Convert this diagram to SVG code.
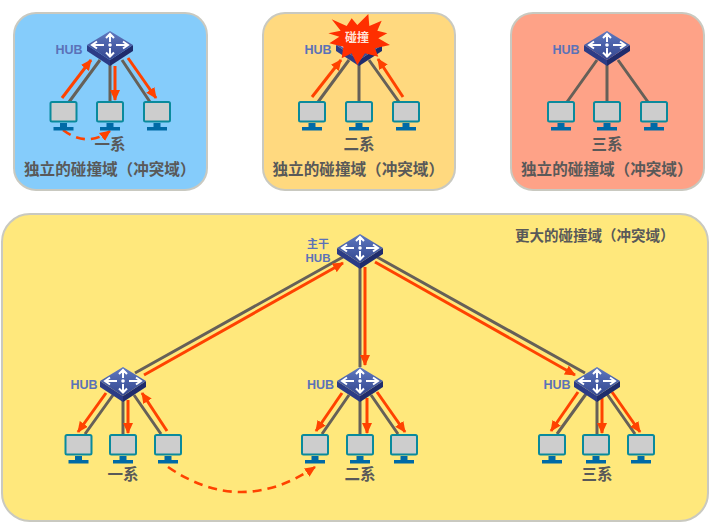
<svg xmlns="http://www.w3.org/2000/svg" width="717" height="529" viewBox="0 0 717 529">
<style>
.panel{stroke:#c9c9c0;stroke-width:2}
.t{font-family:"Noto Sans CJK SC","Liberation Sans",sans-serif;font-weight:700;fill:#595959;text-anchor:middle}
.hub{font-family:"Liberation Sans","Noto Sans CJK SC",sans-serif;font-weight:700;fill:#5b72b8;text-anchor:middle}
.title{font-size:15.600px;text-anchor:start}
.sys{font-size:15.500px}
.link{stroke:#666058;stroke-width:3;fill:none}
.red{stroke:#ff4200;stroke-width:3;fill:none;marker-end:url(#ah)}
.dash{stroke:#ff4200;stroke-width:2.600;fill:none;stroke-dasharray:9 6;marker-end:url(#ah)}
.wa{stroke:#fff;stroke-width:2;fill:none}
</style>
<defs>
<linearGradient id="hg" x1="0" y1="0" x2="0" y2="1"><stop offset="0" stop-color="#5f79c0"/><stop offset="1" stop-color="#33468f"/></linearGradient>
<marker id="ah" markerUnits="userSpaceOnUse" markerWidth="12" markerHeight="12" refX="10" refY="6" orient="auto"><path d="M0 1L11 6L0 11Z" fill="#ff4200"/></marker>
<symbol id="hubicon" overflow="visible">
<path d="M-23 -1V5L0 20V14Z" fill="#2c3c86"/>
<path d="M23 -1V5L0 20V14Z" fill="#1f2c6c"/>
<path d="M0 -15L23 -1L0 14L-23 -1Z" fill="url(#hg)"/>
<path class="wa" d="M0 -4V-11M-4 -8L0 -12L4 -8M0 2V10M-4 6.500L0 10.500L4 6.500M-6 -1H-18M-13 -4.500L-18 -1L-13 2.500M6 -1H18M13 -4.500L18 -1L13 2.500"/>
<circle cx="0" cy="-1" r="1.800" fill="#fff"/>
</symbol>
<symbol id="pcicon" overflow="visible">
<rect x="-13" y="0" width="26" height="19.500" rx="1.500" fill="#cdcdcd" stroke="#0a8a9c" stroke-width="2"/>
<rect x="-3.500" y="21" width="7" height="4" fill="#006aa6"/>
<rect x="-10" y="25" width="20" height="3.500" fill="#006aa6"/>
</symbol>
</defs>
<rect width="717" height="529" fill="#fff"/>
<rect class="panel" x="14" y="13" width="193" height="177" rx="22" fill="#85ccfb"/>
<rect class="panel" x="263" y="13" width="192" height="177" rx="22" fill="#ffd97f"/>
<rect class="panel" x="511" y="13" width="193" height="177" rx="22" fill="#fea287"/>
<rect class="panel" x="2" y="214" width="706" height="307" rx="28" fill="#ffe87c"/>
<g id="connectors">
<path class="link" d="M100 60L69 102M110 64V102M122 60L150 102"/>
<path class="link" d="M349 60L318 102M359 64V102M369 60L399 102"/>
<path class="link" d="M597 60L567 102M607 64V102M618 60L648 102"/>
<path class="link" d="M343 257L135 373M360 266V367M377 257L585 373"/>
<path class="link" d="M113 395L85 434M123 399V435M134 395L161 434"/>
<path class="link" d="M349 395L322 434M360 399V435M371 395L398 434"/>
<path class="link" d="M586 394L557 434M597 399V435M607 394L635 434"/>
<path class="red" d="M62 98L91 60"/>
<path class="red" d="M115 66V100"/>
<path class="red" d="M128 58L156 98"/>
<path class="dash" d="M63 130Q87 148 110 131"/>
<path class="red" d="M312 97L341 60"/>
<path class="red" d="M403 97L378 59"/>
<path class="red" d="M144 375L343 263"/>
<path class="red" d="M365 267V365"/>
<path class="red" d="M375 262L575 375"/>
<path class="red" d="M106 393L78 432"/>
<path class="red" d="M128 400V433"/>
<path class="red" d="M167 431L142 393"/>
<path class="red" d="M342 393L316 431"/>
<path class="red" d="M367 398V433"/>
<path class="red" d="M377 392L405 432"/>
<path class="red" d="M578 392L551 431"/>
<path class="red" d="M602 398V433"/>
<path class="red" d="M612 392L640 432"/>
<path class="dash" d="M168 467Q241 517 315 467"/>
</g>
<g id="hub-1"><use href="#hubicon" x="110" y="46"/><text class="hub" x="69" y="53.500" font-size="12.500">HUB</text></g>
<g id="pc-1a"><use href="#pcicon" x="63.500" y="102"/></g>
<g id="pc-1b"><use href="#pcicon" x="110" y="102"/></g>
<g id="pc-1c"><use href="#pcicon" x="157" y="102"/></g>
<text class="t sys" x="110" y="150">一系</text>
<text class="t title" x="24" y="174.500">独立的碰撞域（冲突域）</text>
<g id="hub-2"><use href="#hubicon" x="359" y="46"/><text class="hub" x="318" y="53.500" font-size="12.500">HUB</text></g>
<g id="pc-2a"><use href="#pcicon" x="312" y="102"/></g>
<g id="pc-2b"><use href="#pcicon" x="359" y="102"/></g>
<g id="pc-2c"><use href="#pcicon" x="406" y="102"/></g>
<text class="t sys" x="359" y="150">二系</text>
<text class="t title" x="272.500" y="174.500">独立的碰撞域（冲突域）</text>
<g id="collision">
<polygon transform="translate(250 0) scale(.3333)" fill="#ff2f00" points="245,58 290,78 305,55 322,75 355,42 358,78 395,62 382,92 412,100 385,115 420,135 375,145 385,170 345,160 322,195 305,160 275,175 280,140 238,130 268,110 235,100 272,92"/>
<text x="357" y="42" font-size="12" text-anchor="middle" fill="#ffe4d8" font-weight="700" font-family="Noto Sans CJK SC,sans-serif">碰撞</text>
</g>
<g id="hub-3"><use href="#hubicon" x="607" y="46"/><text class="hub" x="566" y="53.500" font-size="12.500">HUB</text></g>
<g id="pc-3a"><use href="#pcicon" x="561" y="102"/></g>
<g id="pc-3b"><use href="#pcicon" x="607" y="102"/></g>
<g id="pc-3c"><use href="#pcicon" x="654" y="102"/></g>
<text class="t sys" x="607" y="150">三系</text>
<text class="t title" x="521" y="174.500">独立的碰撞域（冲突域）</text>
<text class="t" x="515" y="241" font-size="14.500" style="text-anchor:start">更大的碰撞域（冲突域）</text>
<g id="hub-main"><use href="#hubicon" x="360" y="249"/><text class="hub" x="318" y="248" font-size="11" style="font-family:'Noto Sans CJK SC',sans-serif">主干</text><text class="hub" x="318" y="262" font-size="11.500">HUB</text></g>
<g id="hub-a"><use href="#hubicon" x="123" y="382"/><text class="hub" x="84" y="388.500" font-size="12.500">HUB</text></g>
<g id="pc-a1"><use href="#pcicon" x="78.500" y="435"/></g>
<g id="pc-a2"><use href="#pcicon" x="123" y="435"/></g>
<g id="pc-a3"><use href="#pcicon" x="168" y="435"/></g>
<text class="t sys" x="123" y="480">一系</text>
<g id="hub-b"><use href="#hubicon" x="360" y="382"/><text class="hub" x="320.500" y="388.500" font-size="12.500">HUB</text></g>
<g id="pc-b1"><use href="#pcicon" x="315" y="435"/></g>
<g id="pc-b2"><use href="#pcicon" x="360" y="435"/></g>
<g id="pc-b3"><use href="#pcicon" x="404" y="435"/></g>
<text class="t sys" x="360" y="480">二系</text>
<g id="hub-c"><use href="#hubicon" x="597" y="382"/><text class="hub" x="557" y="388.500" font-size="12.500">HUB</text></g>
<g id="pc-c1"><use href="#pcicon" x="552" y="435"/></g>
<g id="pc-c2"><use href="#pcicon" x="596" y="435"/></g>
<g id="pc-c3"><use href="#pcicon" x="641" y="435"/></g>
<text class="t sys" x="597" y="480">三系</text>
</svg>
